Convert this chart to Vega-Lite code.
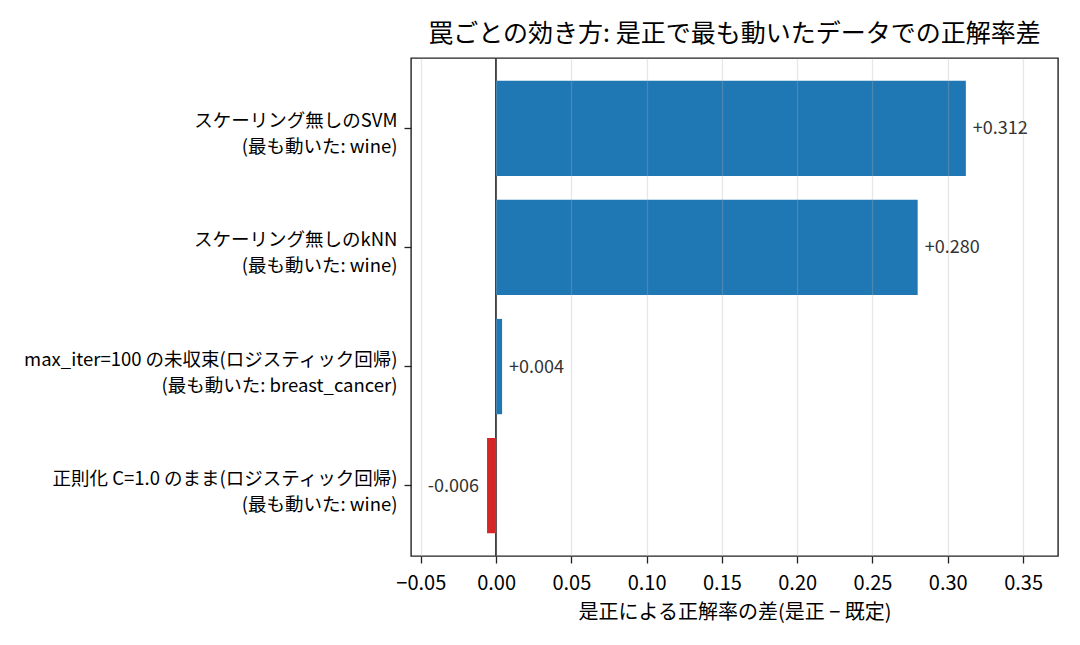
{
  "$schema": "https://vega.github.io/schema/vega-lite/v6.json",
  "autosize": {"type": "none"},
  "padding": {"left": 411, "top": 58, "right": 22, "bottom": 89},
  "width": 647,
  "height": 498,
  "background": "white",
  "title": {
    "text": "罠ごとの効き方: 是正で最も動いたデータでの正解率差",
    "fontSize": 25,
    "fontWeight": "normal",
    "color": "#000",
    "anchor": "middle",
    "offset": 10
  },
  "data": {
    "values": [
      {"label": "スケーリング無しのSVM\n(最も動いた: wine)", "value": 0.312, "disp": "+0.312"},
      {"label": "スケーリング無しのkNN\n(最も動いた: wine)", "value": 0.280, "disp": "+0.280"},
      {"label": "max_iter=100 の未収束(ロジスティック回帰)\n(最も動いた: breast_cancer)", "value": 0.004, "disp": "+0.004"},
      {"label": "正則化 C=1.0 のまま(ロジスティック回帰)\n(最も動いた: wine)", "value": -0.006, "disp": "-0.006"}
    ]
  },
  "encoding": {
    "y": {
      "field": "label",
      "type": "nominal",
      "sort": null,
      "title": null,
      "scale": {"paddingInner": 0.2, "paddingOuter": 0.19},
      "axis": {
        "labelExpr": "split(datum.label, '\\n')",
        "labelFontSize": 18.5,
        "labelLineHeight": 26,
        "labelOffset": -7,
        "labelColor": "#000",
        "labelPadding": 7,
        "tickSize": 7,
        "tickColor": "#222",
        "tickWidth": 1.3,
        "domain": false,
        "labelLimit": 500
      }
    }
  },
  "layer": [
    {
      "mark": {"type": "rule", "color": "#333", "strokeWidth": 1.2},
      "encoding": {"x": {"datum": 0, "type": "quantitative"}, "y": null}
    },
    {
      "mark": {"type": "bar"},
      "encoding": {
        "x": {
          "field": "value",
          "type": "quantitative",
          "title": "是正による正解率の差(是正 − 既定)",
          "scale": {"domain": [-0.0565, 0.3732], "nice": false, "zero": false},
          "axis": {
            "values": [-0.05, 0, 0.05, 0.1, 0.15, 0.2, 0.25, 0.3, 0.35],
            "format": ".2f",
            "grid": true,
            "gridColor": "#b0b0b0",
            "gridOpacity": 0.3,
            "gridWidth": 1.3,
            "zindex": 1,
            "domain": false,
            "tickSize": 7,
            "tickColor": "#222",
            "tickWidth": 1.3,
            "labelFontSize": 20,
            "labelColor": "#000",
            "labelPadding": 10,
            "labelFlush": false,
            "labelOverlap": false,
            "titleFontSize": 20,
            "titleFontWeight": "normal",
            "titleColor": "#000",
            "titlePadding": 9
          }
        },
        "color": {
          "condition": {"test": "datum.value < 0", "value": "#d62728"},
          "value": "#1f77b4"
        }
      }
    },
    {
      "transform": [{"filter": "datum.value >= 0"}],
      "mark": {"type": "text", "align": "left", "baseline": "middle", "dx": 7, "dy": 1, "fontSize": 18, "color": "#333"},
      "encoding": {
        "x": {"field": "value", "type": "quantitative"},
        "text": {"field": "disp"}
      }
    },
    {
      "transform": [{"filter": "datum.value < 0"}],
      "mark": {"type": "text", "align": "right", "baseline": "middle", "dx": -8, "dy": 1, "fontSize": 18, "color": "#333"},
      "encoding": {
        "x": {"field": "value", "type": "quantitative"},
        "text": {"field": "disp"}
      }
    }
  ],
  "config": {
    "font": "Noto Sans CJK JP",
    "view": {"stroke": "#222", "strokeWidth": 1.4}
  }
}
